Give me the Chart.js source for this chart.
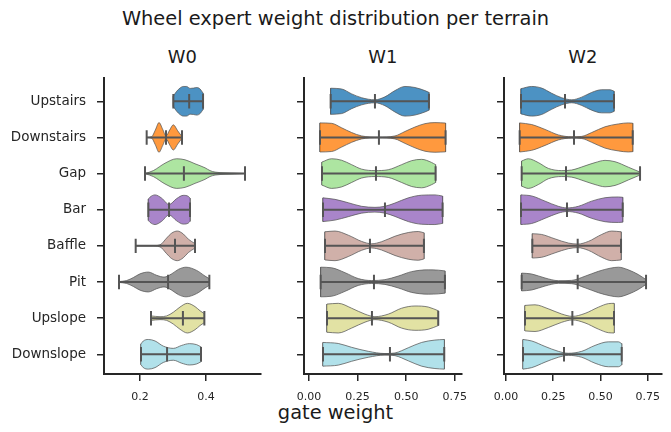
<!DOCTYPE html>
<html><head><meta charset="utf-8">
<script src="https://cdn.jsdelivr.net/npm/chart.js@4/dist/chart.umd.min.js"></script>
<style>
body{margin:0;width:671px;height:432px;background:#fff;position:relative;overflow:hidden;font-family:'DejaVu Sans',sans-serif;color:#1a1a1a}
canvas{position:absolute;top:70px}
.t{position:absolute;white-space:nowrap;transform:translate(-50%,-50%);line-height:1}
</style></head><body>
<div class="t" style="left:335.5px;top:19px;font-size:19.4px">Wheel expert weight distribution per terrain</div>
<div class="t" style="left:182.3px;top:57px;font-size:17.9px">W0</div>
<div class="t" style="left:382.9px;top:57px;font-size:17.9px">W1</div>
<div class="t" style="left:582.9px;top:57px;font-size:17.9px">W2</div>
<div class="t" style="left:335.5px;top:413px;font-size:19.4px">gate weight</div>
<canvas id="c0" width="264" height="340" style="left:0px"></canvas>
<canvas id="c1" width="180" height="340" style="left:290px"></canvas>
<canvas id="c2" width="181" height="340" style="left:490px"></canvas>
<script>
// ---- data ----
const terrains = ['Upstairs','Downstairs','Gap','Bar','Baffle','Pit','Upslope','Downslope'];
const experts = ['W0','W1','W2'];
const colors = ['#1f77b4','#ff7f0e','#98df8a','#9467bd','#c49c94','#7f7f7f','#dbdb8d','#9edae5'];

const w0Ticks = [0.2, 0.4];
const w12Ticks = [0, 0.25, 0.5, 0.75];

// W0
const w0Min = [0.301,0.2202,0.2152,0.2253,0.1869,0.1364,0.2333,0.203];
const w0Max = [0.391,0.3273,0.5182,0.3515,0.3667,0.4101,0.395,0.3848];
const w0Median = [0.349,0.2788,0.333,0.288,0.306,0.285,0.330,0.282];
const w0ProfileX = [
  [0.301,0.311,0.321,0.331,0.341,0.352,0.362,0.372,0.382,0.391],
  [0.2202,0.2354,0.2465,0.2576,0.2687,0.2788,0.2899,0.301,0.3141,0.3273],
  [0.2152,0.2404,0.2758,0.3111,0.3364,0.3667,0.397,0.4121,0.4273,0.4576,0.4879,0.5182],
  [0.2253,0.2303,0.2455,0.2657,0.2879,0.3111,0.3313,0.3465,0.3515],
  [0.1869,0.2303,0.2606,0.2808,0.296,0.3131,0.3313,0.3465,0.3667],
  [0.1364,0.1596,0.1798,0.2,0.2253,0.2505,0.2727,0.296,0.3162,0.3394,0.3717,0.397,0.4101],
  [0.2333,0.2606,0.2808,0.301,0.3212,0.3434,0.3667,0.3818,0.395],
  [0.203,0.2101,0.2253,0.2455,0.2707,0.301,0.3263,0.3495,0.3717,0.3848]
];
const w0ProfileW = [
  [0.35,0.67,0.89,1.0,1.0,0.87,0.89,0.93,0.83,0.55],
  [0.0,0.05,0.5,1.0,0.55,0.1,0.5,0.85,0.45,0.05],
  [0.0,0.2,0.7,1.0,0.93,0.66,0.39,0.2,0.1,0.05,0.03,0.0],
  [0.72,0.85,1.0,0.78,0.35,0.75,0.97,0.9,0.78],
  [0.0,0.0,0.07,0.53,0.86,1.0,0.8,0.45,0.15],
  [0.03,0.1,0.3,0.55,0.67,0.45,0.33,0.55,0.85,1.0,0.78,0.4,0.22],
  [0.15,0.1,0.15,0.4,0.75,1.0,0.78,0.5,0.3],
  [0.7,0.9,1.0,0.9,0.55,0.4,0.6,0.72,0.65,0.5]
];

// W1
const w1Min = [0.1115,0.0566,0.0669,0.072,0.0823,0.06,0.0926,0.072];
const w1Max = [0.6173,0.703,0.6516,0.6876,0.5916,0.6996,0.6653,0.6962];
const w1Median = [0.3395,0.36,0.3447,0.391,0.3138,0.3344,0.3241,0.4167];
const w1ProfileX = [
  [0.1115,0.168,0.2195,0.2709,0.3395,0.3909,0.4424,0.4938,0.5453,0.5967,0.6173],
  [0.0566,0.1166,0.168,0.2195,0.2709,0.3567,0.4424,0.4938,0.5453,0.5967,0.6481,0.703],
  [0.0669,0.1166,0.168,0.2195,0.2709,0.3395,0.4081,0.4767,0.5281,0.5796,0.631,0.6516],
  [0.072,0.1337,0.2023,0.2709,0.3395,0.3909,0.4424,0.511,0.5796,0.6481,0.6876],
  [0.0823,0.1337,0.2023,0.2709,0.3224,0.3738,0.4424,0.511,0.5624,0.5916],
  [0.06,0.1166,0.1852,0.2538,0.3224,0.3909,0.4595,0.5281,0.6139,0.6653,0.6996],
  [0.0926,0.1509,0.2195,0.2881,0.3395,0.4081,0.4767,0.5453,0.6139,0.6653],
  [0.072,0.1509,0.2195,0.3052,0.3909,0.4424,0.511,0.5796,0.6481,0.6962]
];
const w1ProfileW = [
  [0.88,0.83,0.5,0.24,0.1,0.3,0.72,1.0,0.93,0.72,0.6],
  [0.98,0.95,0.65,0.33,0.1,0.02,0.1,0.4,0.7,0.93,1.0,0.97],
  [0.78,1.0,0.9,0.6,0.3,0.2,0.26,0.6,0.87,0.96,0.75,0.6],
  [0.8,0.7,0.47,0.23,0.16,0.23,0.45,0.8,0.98,1.0,0.92],
  [0.95,1.0,0.72,0.3,0.14,0.28,0.65,0.9,0.97,0.88],
  [1.0,0.96,0.63,0.23,0.1,0.16,0.4,0.7,0.82,0.8,0.75],
  [0.95,1.0,0.67,0.27,0.1,0.27,0.67,0.82,0.75,0.5],
  [0.8,0.73,0.47,0.2,0.05,0.09,0.44,0.8,0.96,1.0]
];

// W2
const w2Min = [0.0794,0.0723,0.0829,0.0794,0.1394,0.0829,0.1006,0.09];
const w2Max = [0.5717,0.6706,0.7094,0.6176,0.6088,0.7411,0.5717,0.6123];
const w2Median = [0.3123,0.36,0.3176,0.3229,0.3794,0.3794,0.3512,0.307];
const w2ProfileX = [
  [0.0794,0.1359,0.1888,0.2418,0.2947,0.3476,0.4006,0.4535,0.5064,0.5506,0.5717],
  [0.0723,0.1359,0.2065,0.277,0.3476,0.4006,0.4535,0.5241,0.5947,0.6476,0.6706],
  [0.0829,0.1182,0.1712,0.2241,0.2947,0.3476,0.4182,0.4711,0.5241,0.577,0.6476,0.7094],
  [0.0794,0.1359,0.2065,0.277,0.3229,0.3829,0.4535,0.5241,0.5947,0.6176],
  [0.1394,0.1888,0.2594,0.33,0.3794,0.4359,0.5064,0.5594,0.6088],
  [0.0829,0.1359,0.2065,0.277,0.3476,0.4182,0.4888,0.5506,0.5947,0.6476,0.7006,0.7411],
  [0.1006,0.1535,0.2241,0.2947,0.3512,0.4182,0.4888,0.5417,0.5717],
  [0.09,0.1359,0.2065,0.277,0.33,0.4006,0.4711,0.5417,0.5947,0.6123]
];
const w2ProfileW = [
  [0.85,1.0,0.89,0.54,0.24,0.1,0.28,0.6,0.78,0.78,0.68],
  [0.98,0.87,0.54,0.17,0.04,0.07,0.33,0.72,0.91,0.98,0.96],
  [0.85,1.0,0.74,0.35,0.2,0.24,0.52,0.74,0.89,0.8,0.43,0.1],
  [1.0,0.93,0.58,0.23,0.12,0.23,0.58,0.81,0.86,0.84],
  [0.82,0.77,0.47,0.19,0.12,0.3,0.77,1.0,0.95],
  [0.6,0.54,0.27,0.09,0.11,0.39,0.72,0.93,1.0,0.82,0.5,0.16],
  [0.86,0.9,0.63,0.28,0.12,0.32,0.74,0.98,1.0],
  [1.0,0.9,0.53,0.2,0.07,0.2,0.6,0.84,0.84,0.72]
];

// ---- drawing ----
const HALF = 0.41, CAP = 0.2;
const EDGE = 'rgba(85,85,85,0.75)';
const INNER = '#555555';
const TXT = '#262626';
function rgba(hex, a){const n=parseInt(hex.slice(1),16);return `rgba(${n>>16&255},${n>>8&255},${n&255},${a})`;}

function buildDatasets(mins, maxs, meds, PX, PW){
  const ds = [];
  const inner = [];
  terrains.forEach((t,i)=>{
    const xs = PX[i], ws = PW[i];
    ds.push({data: xs.map((x,k)=>({x, y: i - HALF*ws[k]})), borderColor: EDGE, borderWidth: 1,
      fill: false, cubicInterpolationMode: 'monotone', order: 1});
    ds.push({data: xs.map((x,k)=>({x, y: i + HALF*ws[k]})), borderColor: EDGE, borderWidth: 1,
      fill: '-1', backgroundColor: rgba(colors[i],0.8), cubicInterpolationMode: 'monotone', order: 1});
    const n = ws.length-1;
    ds.push({data: [{x:xs[0],y:i-HALF*ws[0]},{x:xs[0],y:i+HALF*ws[0]},{x:null,y:null},
      {x:xs[n],y:i-HALF*ws[n]},{x:xs[n],y:i+HALF*ws[n]}], borderColor: EDGE, borderWidth: 1, fill:false, order: 1});
    inner.push({x:mins[i],y:i},{x:maxs[i],y:i},{x:null,y:null},
      {x:mins[i],y:i-CAP},{x:mins[i],y:i+CAP},{x:null,y:null},
      {x:maxs[i],y:i-CAP},{x:maxs[i],y:i+CAP},{x:null,y:null},
      {x:meds[i],y:i-CAP},{x:meds[i],y:i+CAP},{x:null,y:null});
  });
  ds.push({data: inner, borderColor: INNER, borderWidth: 2, fill:false, order: 0, spanGaps:false});
  return ds;
}

function zeroPad(s){ s.paddingTop = 0; s.paddingBottom = 0; s.paddingLeft = 0; s.paddingRight = 0; }

function makeChart(id, ds, xmin, xmax, ticks, digits, yWidth, showLabels, padRight){
  new Chart(document.getElementById(id), {
    type: 'line',
    data: {datasets: ds},
    options: {
      responsive: false, animation: false, devicePixelRatio: 1,
      layout: {padding: {top: 8.3, right: padRight, bottom: 0, left: 0}},
      elements: {point: {radius: 0, hoverRadius: 0}, line: {tension: 0}},
      plugins: {legend: {display: false}, tooltip: {enabled: false}, title: {display:false}},
      events: [],
      scales: {
        x: {type: 'linear', min: xmin, max: xmax,
          afterBuildTicks: s => { s.ticks = ticks.map(v=>({value:v})); },
          afterFit: s => { s.height = 36; zeroPad(s); },
          ticks: {callback: v => Number(v).toFixed(digits), color: TXT, padding: 10,
            font: {family: 'DejaVu Sans', size: 11}, maxRotation: 0},
          grid: {drawOnChartArea: false, drawTicks: true, tickLength: 7, color: TXT, lineWidth: 1.5},
          border: {display: true, color: TXT, width: 2}
        },
        y: {type: 'linear', min: -0.636, max: 7.545, reverse: true,
          afterBuildTicks: s => { s.ticks = terrains.map((t,i)=>({value:i})); },
          afterFit: s => { s.width = yWidth; zeroPad(s); },
          ticks: {callback: v => showLabels ? terrains[v] : '', color: TXT, padding: 11,
            font: {family: 'DejaVu Sans', size: 13.5}},
          grid: {drawOnChartArea: false, drawTicks: true, tickLength: 7, color: TXT, lineWidth: 1.5},
          border: {display: true, color: TXT, width: 2}
        }
      }
    }
  });
}

makeChart('c0', buildDatasets(w0Min,w0Max,w0Median,w0ProfileX,w0ProfileW), 0.0909, 0.5657, w0Ticks, 1, 104, true, 3.3);
makeChart('c1', buildDatasets(w1Min,w1Max,w1Median,w1ProfileX,w1ProfileW), -0.0257, 0.786, w12Ticks, 2, 14, false, 8.3);
makeChart('c2', buildDatasets(w2Min,w2Max,w2Median,w2ProfileX,w2ProfileW), -0.0106, 0.824, w12Ticks, 2, 14, false, 9.3);
</script>
</body></html>
